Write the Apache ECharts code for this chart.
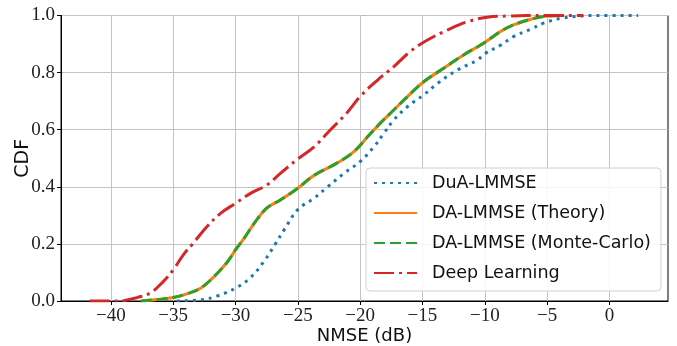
<!DOCTYPE html>
<html>
<head>
<meta charset="utf-8">
<script src="https://cdn.jsdelivr.net/npm/echarts@6/dist/echarts.min.js"></script>
<style>
    html, body { margin: 0; padding: 0; background: #fff; }
    #cdf-chart { width: 677px; height: 346px; }
</style>
</head>
<body>
<div id="cdf-chart"></div>
<script>
// NMSE (dB) / CDF points
const xTicks = [-40, -35, -30, -25, -20, -15, -10, -5, 0];

const duaX = [-34.7, -32.8, -31.5, -30.0, -28.8, -27.7, -26.8, -26.1, -25.0, -23.7, -22.6, -21.3, -20.0, -18.9, -18.1, -17.3, -16.2, -14.9, -13.8, -12.2, -10.6, -10.0, -8.7, -7.7, -6.3, -5.3, -3.9, -2.3, -1.0, 2.3];
const duaY = [0, 0.004, 0.017, 0.045, 0.082, 0.14, 0.2, 0.249, 0.32, 0.36, 0.4, 0.447, 0.488, 0.54, 0.587, 0.634, 0.681, 0.722, 0.762, 0.809, 0.844, 0.866, 0.897, 0.926, 0.952, 0.973, 0.99, 0.998, 1.0, 1.0];

const theoryX = [-37.6, -36.3, -35.0, -33.9, -32.8, -31.8, -30.7, -30.0, -29.3, -28.5, -27.5, -26.4, -25.0, -23.7, -21.9, -20.5, -19.4, -18.4, -17.3, -16.2, -14.9, -13.3, -11.7, -10.1, -8.7, -7.7, -6.3, -5.0, -3.7];
const theoryY = [0, 0.005, 0.012, 0.025, 0.045, 0.082, 0.134, 0.179, 0.22, 0.272, 0.325, 0.354, 0.395, 0.44, 0.482, 0.523, 0.575, 0.622, 0.669, 0.716, 0.768, 0.815, 0.862, 0.903, 0.945, 0.967, 0.987, 0.998, 1.0];

const monteCarloX = [-37.6, -36.3, -35.0, -33.9, -32.8, -31.8, -30.7, -30.0, -29.3, -28.5, -27.5, -26.4, -25.0, -23.7, -21.9, -20.5, -19.4, -18.4, -17.3, -16.2, -14.9, -13.3, -11.7, -10.1, -8.7, -7.7, -6.3, -5.0, -3.7];
const monteCarloY = [0, 0.005, 0.012, 0.025, 0.045, 0.082, 0.134, 0.179, 0.22, 0.272, 0.325, 0.354, 0.395, 0.44, 0.482, 0.523, 0.575, 0.622, 0.669, 0.716, 0.768, 0.815, 0.862, 0.903, 0.945, 0.967, 0.987, 0.998, 1.0];

const dlX = [-41.7, -40.0, -38.9, -37.9, -36.8, -35.8, -35.0, -34.2, -33.4, -32.3, -31.2, -30.0, -28.8, -27.5, -26.4, -25.1, -23.7, -22.4, -21.1, -20.0, -18.6, -17.3, -16.0, -14.6, -13.0, -11.4, -9.8, -8.2, -5.0, -2.1];
const dlY = [0, 0, 0.002, 0.012, 0.029, 0.068, 0.109, 0.161, 0.202, 0.26, 0.307, 0.342, 0.377, 0.406, 0.447, 0.494, 0.54, 0.599, 0.657, 0.716, 0.774, 0.821, 0.873, 0.914, 0.949, 0.978, 0.994, 0.998, 1.0, 1.0];

const zip = (xs, ys) => xs.map((x, i) => [x, ys[i]]);

const tickFont = { fontFamily: 'Liberation Serif', fontSize: 19, color: '#222' };
const sansFont = 'DejaVu Sans';

const chart = echarts.init(document.getElementById('cdf-chart'), null, { renderer: 'canvas' });

const makeLine = (name, data, color, type, z) => ({
    name: name,
    type: 'line',
    data: data,
    symbol: 'none',
    smooth: 0.4,
    z: z,
    lineStyle: { color: color, width: 3, type: type, cap: 'butt' },
    itemStyle: { color: color },
    emphasis: { disabled: true },
});

const option = {
    animation: false,
    grid: {
        left: 61,
        right: 9,
        top: 15.5,
        bottom: 45,
        containLabel: false,
        outerBoundsMode: 'none',
        show: true,
        borderColor: '#000',
        borderWidth: 1,
    },
    xAxis: {
        type: 'value',
        min: -44,
        max: 4.7,
        name: 'NMSE (dB)',
        nameLocation: 'middle',
        nameGap: 26,
        nameMoveOverlap: false,
        nameTextStyle: { fontFamily: sansFont, fontSize: 18, color: '#111' },
        axisLine: { show: true, onZero: false, lineStyle: { color: '#000', width: 1 } },
        axisTick: { show: true, inside: false, length: 4, customValues: xTicks, lineStyle: { color: '#000' } },
        axisLabel: {
            customValues: xTicks,
            margin: 6,
            ...tickFont,
            formatter: (v) => (v < 0 ? '\u2212' + Math.abs(v) : String(v)),
        },
        splitLine: { show: true, lineStyle: { color: '#c4c4c4', width: 1 } },
    },
    yAxis: {
        type: 'value',
        min: 0,
        max: 1,
        interval: 0.2,
        name: 'CDF',
        nameLocation: 'middle',
        nameGap: 28,
        nameMoveOverlap: false,
        nameTextStyle: { fontFamily: sansFont, fontSize: 19, color: '#111' },
        axisLine: { show: true, onZero: false, lineStyle: { color: '#000', width: 1 } },
        axisTick: { show: true, inside: false, length: 4, lineStyle: { color: '#000' } },
        axisLabel: {
            margin: 6,
            ...tickFont,
            formatter: (v) => v.toFixed(1),
        },
        splitLine: { show: true, lineStyle: { color: '#c4c4c4', width: 1 } },
    },
    legend: {
        orient: 'vertical',
        left: 366,
        top: 168,
        padding: [5, 10, 8, 7],
        itemWidth: 43,
        itemHeight: 14,
        itemGap: 10,
        backgroundColor: 'rgba(255,255,255,0.85)',
        borderColor: '#d0d0d0',
        borderWidth: 1,
        borderRadius: 4,
        selectedMode: false,
        itemStyle: { opacity: 0 },
        textStyle: {
            fontFamily: sansFont,
            fontSize: 17.5,
            lineHeight: 20,
            color: '#111',
            padding: [0, 0, 0, 10],
        },
        data: ['DuA-LMMSE', 'DA-LMMSE (Theory)', 'DA-LMMSE (Monte-Carlo)', 'Deep Learning'],
    },
    series: [
        makeLine('DuA-LMMSE', zip(duaX, duaY), '#1f77b4', [3, 5], 2),
        makeLine('DA-LMMSE (Theory)', zip(theoryX, theoryY), '#ff7f0e', 'solid', 3),
        makeLine('DA-LMMSE (Monte-Carlo)', zip(monteCarloX, monteCarloY), '#2ca02c', [11, 5], 4),
        makeLine('Deep Learning', zip(dlX, dlY), '#d62728', [20, 5, 3, 5], 5),
    ],
};

chart.setOption(option);
</script>
</body>
</html>
